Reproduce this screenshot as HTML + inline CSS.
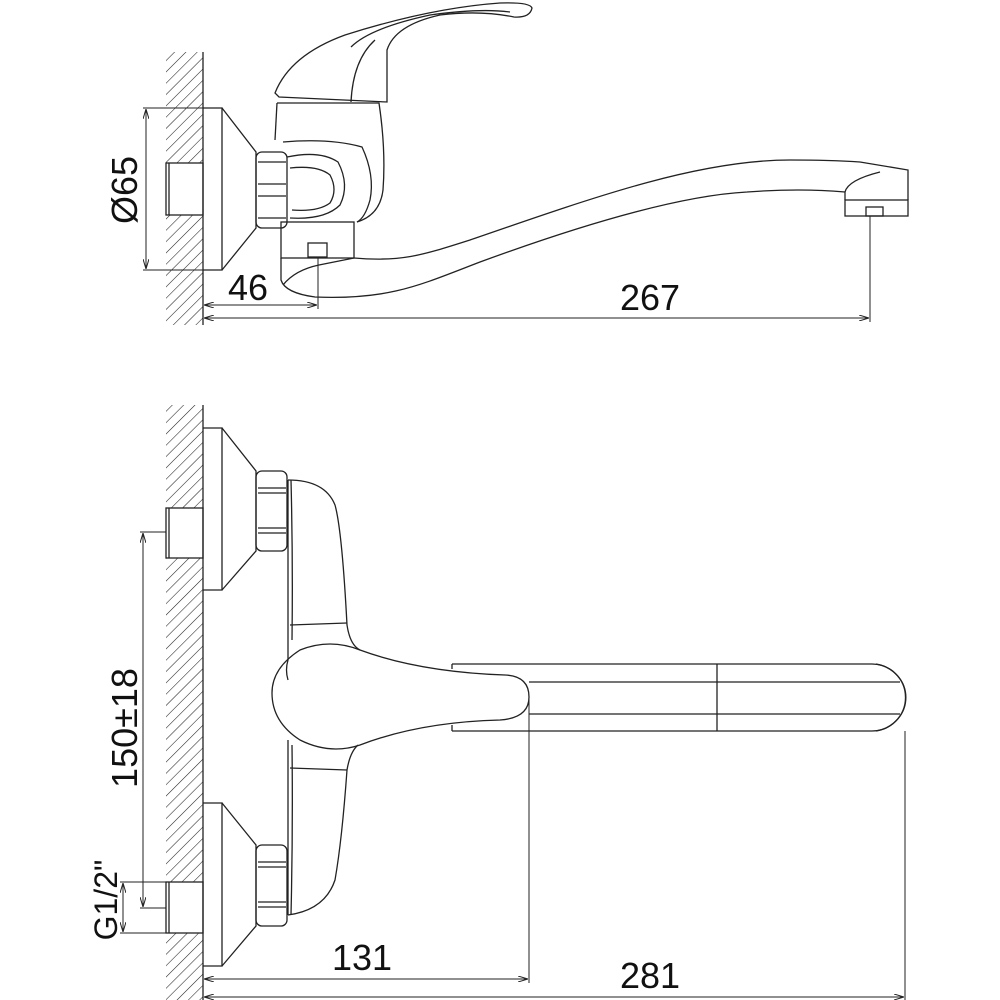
<!DOCTYPE html>
<html><head><meta charset="utf-8"><style>html,body{margin:0;padding:0;background:#fff}svg{display:block}</style></head>
<body>
<svg width="1000" height="1000" viewBox="0 0 1000 1000" xmlns="http://www.w3.org/2000/svg">
<defs>
<pattern id="h" width="8" height="8" patternUnits="userSpaceOnUse" patternTransform="rotate(45)">
<line x1="0" y1="0" x2="0" y2="8" stroke="#222" stroke-width="1.1"/>
</pattern>
<marker id="a" viewBox="0 0 10 6" refX="10" refY="3" markerWidth="10" markerHeight="6" orient="auto-start-reverse" markerUnits="userSpaceOnUse">
<path d="M0,0 L10,3 L0,6" fill="none" stroke="#222" stroke-width="1"/>
</marker>
</defs>
<g fill="none" stroke="#222" stroke-width="1.3">
<rect x="166" y="52" width="37" height="273" fill="url(#h)" stroke="none"/>
<rect x="166" y="163" width="37" height="52" fill="#fff" stroke="none"/>
<line x1="203" y1="52" x2="203" y2="325"/>
<rect x="166" y="163" width="37" height="52"/>
<line x1="169" y1="163" x2="169" y2="215"/>
<path d="M203,108 H222 V270 H203"/>
<path d="M222,108 L256,152 V228 L222,270"/>
<rect x="256" y="152" width="31" height="76" rx="6"/>
<line x1="258" y1="162" x2="286" y2="162"/><line x1="258" y1="184" x2="286" y2="184"/>
<line x1="258" y1="196" x2="286" y2="196"/><line x1="258" y1="218" x2="286" y2="218"/>
<path d="M277,103 L275,140"/>
<path d="M277,103 H379 Q386,150 383,190 Q380,215 357,222"/>
<path d="M283,142 Q330,138 362,147 Q375,175 370,200 Q365,218 357,222"/>
<path d="M287,157 Q320,150 338,162 Q350,185 340,205 Q325,220 290,218"/>
<path d="M290,168 Q318,165 330,175 Q338,190 330,203 Q318,212 292,210"/>
<rect x="281" y="222" width="73" height="36"/>
<rect x="308" y="243" width="19" height="14"/>
<path d="M275,93 Q290,55 345,35 Q430,8 500,3 Q530,2 532,8 Q530,18 514,17 Q480,10 440,15 Q395,25 387,50 L387,102 L279,97 Z"/>
<path d="M351,47 Q370,28 430,15 Q480,8 510,12"/>
<path d="M351,102 Q353,60 375,40"/>
<path d="M281,258 V280 Q285,293 315,297 C390,300 420,285 480,262 C600,218 690,195 747,192 Q800,188 845,192 L845,200"/>
<path d="M283,285 Q295,270 319,265 L354,258"/>
<path d="M354,258 C400,262 420,256 470,240 C600,195 700,160 790,160 Q830,160 860,162 L908,170 V200"/>
<path d="M845,192 Q848,180 880,172"/>
<rect x="845" y="200" width="63" height="16"/>
<rect x="866" y="207" width="17" height="9"/>
<line x1="143" y1="108" x2="203" y2="108" stroke-width="1"/>
<line x1="143" y1="270" x2="203" y2="270" stroke-width="1"/>
<line x1="146" y1="109" x2="146" y2="269" stroke-width="1" marker-start="url(#a)" marker-end="url(#a)"/>
<line x1="318" y1="258" x2="318" y2="309" stroke-width="1"/>
<line x1="870" y1="216" x2="870" y2="322" stroke-width="1"/>
<line x1="204" y1="305" x2="317" y2="305" stroke-width="1" marker-start="url(#a)" marker-end="url(#a)"/>
<line x1="204" y1="318" x2="869" y2="318" stroke-width="1" marker-start="url(#a)" marker-end="url(#a)"/>
<rect x="166" y="405" width="37" height="595" fill="url(#h)" stroke="none"/>
<rect x="166" y="508" width="37" height="50" fill="#fff" stroke="none"/>
<rect x="166" y="882" width="37" height="51" fill="#fff" stroke="none"/>
<line x1="203" y1="405" x2="203" y2="1000"/>
<rect x="166" y="508" width="37" height="50"/><line x1="169" y1="508" x2="169" y2="558"/>
<rect x="166" y="882" width="37" height="51"/><line x1="169" y1="882" x2="169" y2="933"/>
<path d="M203,428 H222 V590 H203"/><path d="M222,428 L256,471 V551 L222,590"/>
<path d="M203,803 H222 V966 H203"/><path d="M222,803 L256,845 V926 L222,966"/>
<rect x="256" y="471" width="31" height="80" rx="6"/>
<line x1="258" y1="488" x2="286" y2="488"/><line x1="258" y1="493" x2="286" y2="493"/>
<line x1="258" y1="528" x2="286" y2="528"/><line x1="258" y1="533" x2="286" y2="533"/>
<rect x="256" y="845" width="31" height="81" rx="6"/>
<line x1="258" y1="862" x2="286" y2="862"/><line x1="258" y1="867" x2="286" y2="867"/>
<line x1="258" y1="902" x2="286" y2="902"/><line x1="258" y1="907" x2="286" y2="907"/>
<path d="M288,480 Q325,480 335,505 Q342,530 347,625 Q350,645 360,650"/>
<path d="M288,480 V660 Q285,670 288,680"/>
<path d="M291,480 Q293,560 292,640"/>
<line x1="290" y1="625" x2="347" y2="623"/>
<path d="M288,915 Q325,910 335,880 Q342,840 347,770 Q350,752 358,745"/>
<path d="M288,915 V740"/>
<path d="M291,915 Q293,830 292,745"/>
<line x1="290" y1="768" x2="347" y2="770"/>
<path d="M360,650 Q330,638 300,650 Q272,668 272,693 Q272,722 300,740 Q330,755 360,745 Q420,722 500,720 Q529,718 529,697 Q529,676 505,675 Q420,672 360,650 Z"/>
<path d="M452,664 H872 A33,33 0 0 1 872,731 H452"/>
<path d="M876,664 A36,34 0 0 1 876,731"/>
<line x1="452" y1="664" x2="452" y2="669"/><line x1="452" y1="725" x2="452" y2="731"/>
<line x1="717" y1="664" x2="717" y2="731"/>
<line x1="529" y1="682" x2="900" y2="682"/><line x1="529" y1="714" x2="900" y2="714"/>
<line x1="140" y1="532" x2="166" y2="532" stroke-width="1"/>
<line x1="140" y1="908" x2="166" y2="908" stroke-width="1"/>
<line x1="143" y1="533" x2="143" y2="907" stroke-width="1" marker-start="url(#a)" marker-end="url(#a)"/>
<line x1="120" y1="882" x2="166" y2="882" stroke-width="1"/>
<line x1="120" y1="933" x2="166" y2="933" stroke-width="1"/>
<line x1="123" y1="883" x2="123" y2="932" stroke-width="1" marker-start="url(#a)" marker-end="url(#a)"/>
<line x1="529" y1="697" x2="529" y2="983" stroke-width="1"/>
<line x1="905" y1="731" x2="905" y2="1000" stroke-width="1"/>
<line x1="204" y1="979" x2="528" y2="979" stroke-width="1" marker-start="url(#a)" marker-end="url(#a)"/>
<line x1="204" y1="997" x2="904" y2="997" stroke-width="1" marker-start="url(#a)" marker-end="url(#a)"/>
</g>
<g fill="#111" font-family="'Liberation Sans', 'DejaVu Sans', sans-serif" font-size="36">
<text x="137" y="190" transform="rotate(-90 137 190)" text-anchor="middle">Ø65</text>
<text x="248" y="300" text-anchor="middle">46</text>
<text x="650" y="310" text-anchor="middle">267</text>
<text x="137" y="728" transform="rotate(-90 137 728)" text-anchor="middle">150±18</text>
<text x="117" y="900" transform="rotate(-90 117 900)" text-anchor="middle" font-size="32">G1/2"</text>
<text x="362" y="970" text-anchor="middle">131</text>
<text x="650" y="988" text-anchor="middle">281</text>
</g>
</svg>
</body></html>
